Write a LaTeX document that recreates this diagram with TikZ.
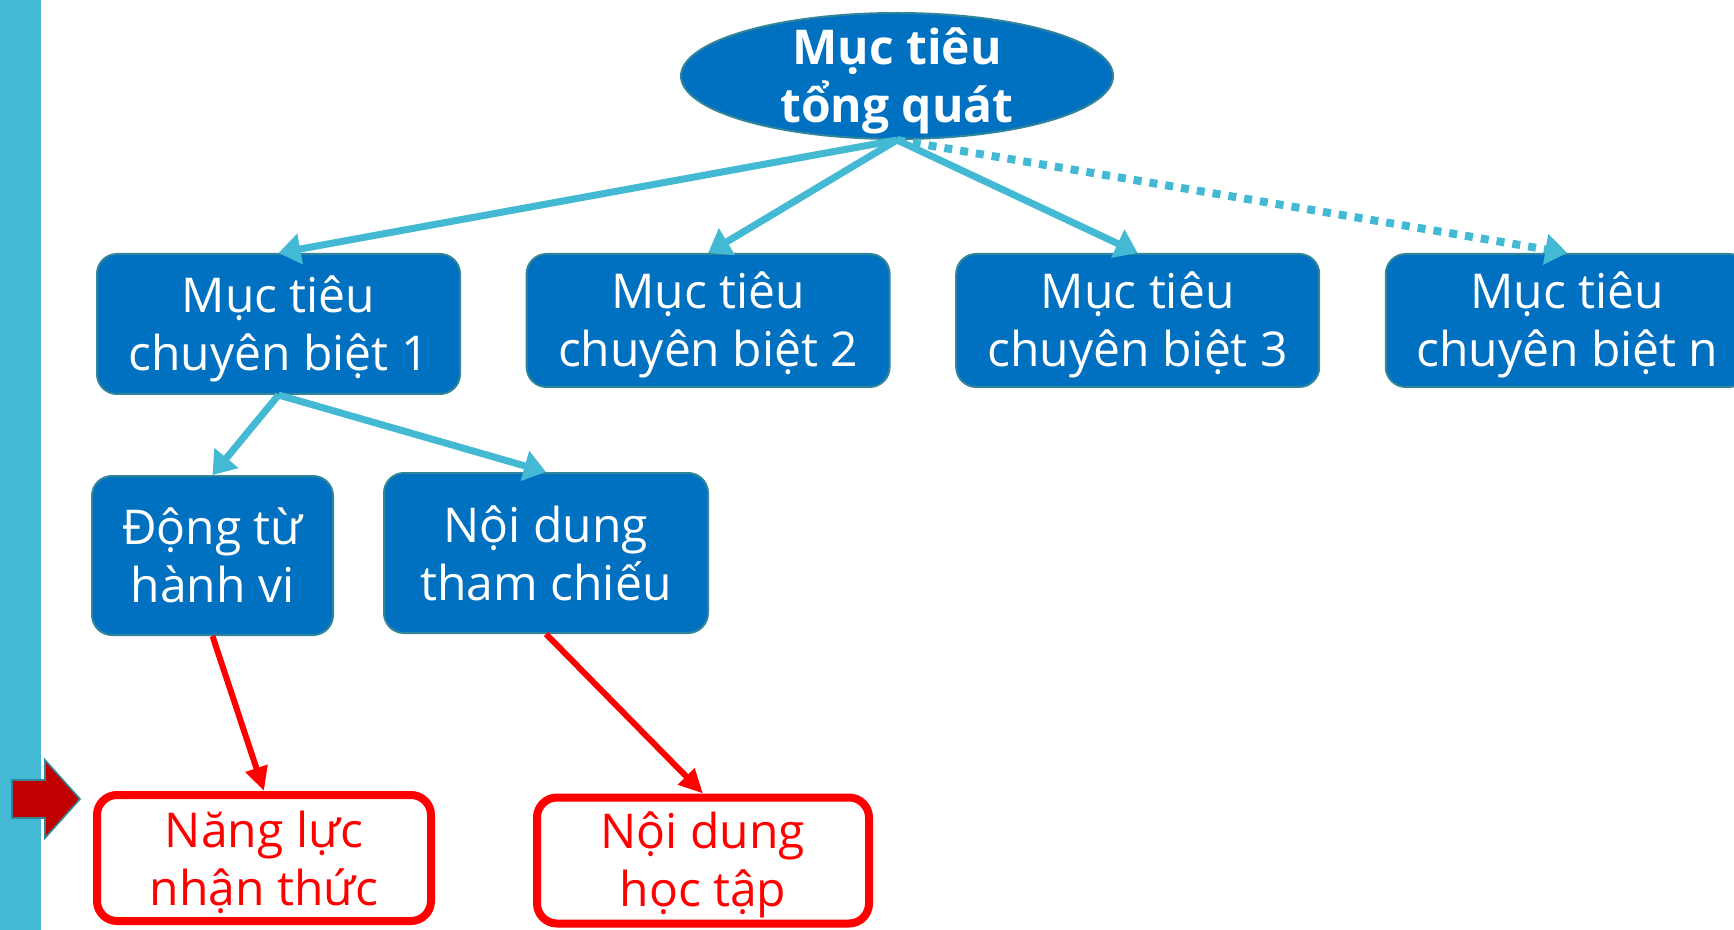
\documentclass[tikz,border=0pt]{standalone}
\usepackage{fontspec}
\setmainfont{Open Sans}
\usepackage{tikz}
\usetikzlibrary{arrows.meta, shapes.geometric, positioning}
\definecolor{boxblue}{RGB}{0, 112, 192}
\definecolor{edgeteal}{RGB}{49, 133, 155}
\definecolor{lineteal}{RGB}{67, 185, 211}
\definecolor{darkred}{RGB}{192, 0, 0}
\newcommand{\topstrut}{\rule{0pt}{0.95em}}

\begin{document}
\begin{tikzpicture}[
        x=0.5pt, y=-0.5pt,
        node distance=32.3pt,
        every node/.style={font=\fontsize{24pt}{29pt}\selectfont, align=center, inner sep=0pt},
        goal/.style={rectangle, draw=edgeteal, line width=1pt, fill=boxblue, text=white, rounded corners=10pt, minimum width=181.5pt, minimum height=66.5pt},
        result/.style={rectangle, draw=red, line width=4pt, fill=white, text=red, rounded corners=10pt, minimum height=63pt},
        link/.style={-{Triangle[length=11pt, width=15pt]}, line width=3.5pt, lineteal},
        dotlink/.style={link, line width=4pt, dash pattern=on 4pt off 4pt},
        redlink/.style={-{Triangle[length=12pt, width=11pt]}, line width=3pt, red}
    ]
        \useasboundingbox (0,0) rectangle (1734,930);
        \clip (0,0) rectangle (1734,930);
        \fill[lineteal] (0,0) rectangle (41,930);
        \filldraw[fill=darkred, draw=edgeteal, line width=0.8pt] (12,780) -- (45,780) -- (45,760) -- (80,799) -- (45,838) -- (45,818) -- (12,818) -- cycle;

        \node[ellipse, draw=edgeteal, line width=1pt, fill=boxblue, text=white, inner ysep=-10pt, minimum width=216pt, minimum height=63pt, font=\fontsize{24pt}{29pt}\selectfont\bfseries] (general) at (897,76) {\topstrut Mục tiêu\\tổng quát};

        \node[goal, minimum height=70pt] (g1) at (278.5,324) {\topstrut Mục tiêu\\chuyên biệt 1};
        \node[goal, right=of g1.north east, anchor=north west] (g2) {\topstrut Mục tiêu\\chuyên biệt 2};
        \node[goal, right=of g2] (g3) {\topstrut Mục tiêu\\chuyên biệt 3};
        \node[goal, right=of g3] (gn) {\topstrut Mục tiêu\\chuyên biệt n};

        \node[goal, minimum width=120.5pt, minimum height=79.5pt] (verb) at (212.5,555.5) {Động từ\\hành vi};
        \node[goal, minimum width=162pt, minimum height=80pt] (content) at (546,553) {Nội dung\\tham chiếu};

        \node[result, minimum width=167pt] (ability) at (264,858) {\topstrut Năng lực\\nhận thức};
        \node[result, minimum width=166pt] (learn) at (703,860.5) {\topstrut Nội dung\\học tập};

        \draw[link] (general.south) -- (g1.north);
        \draw[link] (general.south) -- (g2.north);
        \draw[link] (general.south) -- (g3.north);
        \draw[dotlink] (general.south) -- (gn.north);
        \draw[link] (g1.south) -- (verb.north);
        \draw[link] (g1.south) -- (content.north);
        \draw[redlink] (verb.south) -- (ability.north);
        \draw[redlink] (content.south) -- (learn.north);
    \end{tikzpicture}
\end{document}
